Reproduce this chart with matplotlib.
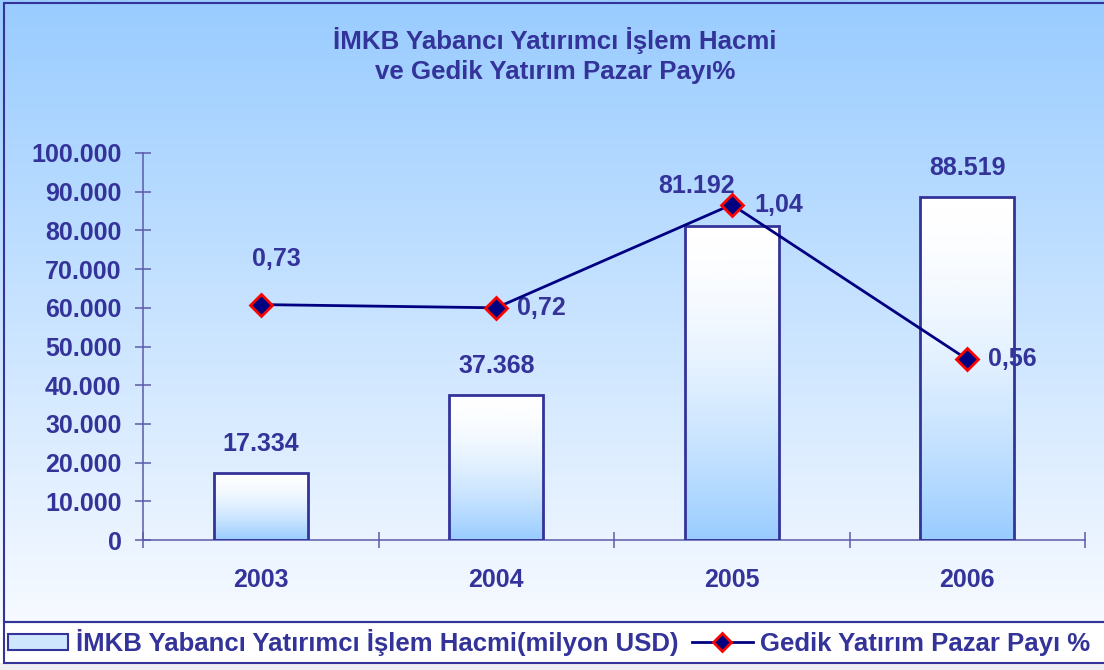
import numpy as np
import matplotlib
matplotlib.use("Agg")
import matplotlib.pyplot as plt
from matplotlib.colors import LinearSegmentedColormap
from matplotlib.patches import Rectangle, Patch
from matplotlib.lines import Line2D
from matplotlib.ticker import FuncFormatter, FixedLocator

plt.rcParams['font.family'] = ['Liberation Sans', 'DejaVu Sans']
plt.rcParams['font.weight'] = 'bold'

# ---- data ----
years = ['2003', '2004', '2005', '2006']
volume = [17334, 37368, 81192, 88519]          # milyon USD
share = [0.73, 0.72, 1.04, 0.56]               # %
volume_labels = ['17.334', '37.368', '81.192', '88.519']
share_labels = ['0,73', '0,72', '1,04', '0,56']
yticks = [0, 10000, 20000, 30000, 40000, 50000, 60000, 70000, 80000, 90000, 100000]
title_lines = ['İMKB Yabancı Yatırımcı İşlem Hacmi', 've Gedik Yatırım Pazar Payı%']
legend_labels = ['İMKB Yabancı Yatırımcı İşlem Hacmi(milyon USD)', 'Gedik Yatırım Pazar Payı %']

TXT = '#333399'
AXC = '#5B5BAA'
LINE = '#000080'

W, H = 1104, 670
fig = plt.figure(figsize=(W / 100, H / 100), dpi=100)

# ---- background ----
bg = fig.add_axes([0, 0, 1, 1], zorder=-10)
bg.set_axis_off()
leg_bottom = (H - 663) / H
leg_top = (H - 622) / H
grad = np.linspace(0, 1, 256).reshape(-1, 1)
cmap_bg = LinearSegmentedColormap.from_list('bg', ['#99CCFF', '#F7FAFF'])
bg.imshow(grad, aspect='auto', cmap=cmap_bg, extent=[0, 1, leg_top, 1], origin='upper')
bg.add_patch(Rectangle((0, 0), 1, leg_bottom, facecolor='#EEEEF2', edgecolor='none'))
bg.add_patch(Rectangle((4 / W, leg_bottom), 1.0, leg_top - leg_bottom,
                       facecolor='white', edgecolor=TXT, lw=1.5))
bg.add_patch(Rectangle((4 / W, leg_top), 1.0, (1 - 3 / H) - leg_top,
                       facecolor='none', edgecolor=TXT, lw=1.5))
bg.set_xlim(0, 1)
bg.set_ylim(0, 1)

# ---- main axes ----
ax = fig.add_axes([143 / W, 130 / H, 942 / W, 387 / H])
ax.set_facecolor('none')
x = np.arange(len(years))
bars = ax.bar(x, volume, width=0.4, facecolor='none', edgecolor=TXT, linewidth=2, zorder=3)

bar_cmap = LinearSegmentedColormap.from_list('bar', ['#FFFFFF', '#99CCFF'])
g = (np.linspace(0, 1, 256) ** 1.7).reshape(-1, 1)
for b in bars:
    x0, w, h = b.get_x(), b.get_width(), b.get_height()
    ax.imshow(g, aspect='auto', cmap=bar_cmap, extent=[x0, x0 + w, 0, h],
              origin='upper', zorder=2, vmin=0, vmax=1)

ax.set_xlim(-0.5, len(years) - 0.5)
ax.set_ylim(0, 100000)

ax.set_yticks(yticks)
ax.yaxis.set_major_formatter(FuncFormatter(lambda v, p: f"{int(v):,}".replace(',', '.')))
ax.tick_params(axis='y', direction='inout', length=12, width=1.1, color=AXC,
               labelcolor=TXT, labelsize=18, pad=9.5)
ax.set_xticks(x)
ax.set_xticklabels(years)
ax.tick_params(axis='x', which='major', length=0, labelcolor=TXT, labelsize=18, pad=20)
ax.xaxis.set_minor_locator(FixedLocator(np.arange(-0.5, len(years), 1.0)))
ax.tick_params(axis='x', which='minor', direction='inout', length=12, width=1.1, color=AXC)
for lbl in ax.get_xticklabels() + ax.get_yticklabels():
    lbl.set_fontweight('bold')
for s in ['top', 'right']:
    ax.spines[s].set_visible(False)
for s in ['left', 'bottom']:
    ax.spines[s].set_color(AXC)
    ax.spines[s].set_linewidth(1.1)

vol_offsets = [(0, 21), (0, 21), (-25, 29), (0, 21)]
for i, b in enumerate(bars):
    ax.annotate(volume_labels[i], (b.get_x() + b.get_width() / 2, b.get_height()),
                xytext=vol_offsets[i], textcoords='offset points',
                ha='center', va='center', fontsize=18, color=TXT, fontweight='bold',
                zorder=5)

# ---- secondary (hidden) axis for market share ----
ax2 = ax.twinx()
ax2.set_ylim(0, 1.2)
ax2.set_axis_off()
ax2.plot(x, share, color=LINE, lw=2, marker='D', ms=11, mfc=LINE, mec='red', mew=2,
         zorder=4)
share_pos = [((11, 33), 'center'), ((15, 0), 'left'), ((16, 0), 'left'), ((15, 0), 'left')]
for i in range(len(share)):
    off, ha = share_pos[i]
    ax2.annotate(share_labels[i], (x[i], share[i]), xytext=off, textcoords='offset points',
                 ha=ha, va='center', fontsize=18, color=TXT, fontweight='bold')

# ---- title ----
fig.text(555 / W, 1 - 40 / H, title_lines[0], ha='center', va='center', fontsize=18.6,
         color=TXT, fontweight='bold')
fig.text(555 / W, 1 - 72 / H, title_lines[1], ha='center', va='center', fontsize=18.6,
         color=TXT, fontweight='bold')

# ---- legend ----
handles = [Patch(facecolor='#CFE6FF', edgecolor=TXT, lw=1.5),
           Line2D([], [], color=LINE, lw=2, marker='D', ms=9, mfc=LINE, mec='red', mew=2)]
leg = fig.legend(handles, legend_labels, loc='center',
                 bbox_to_anchor=(549 / W, (leg_top + leg_bottom) / 2),
                 ncol=2, frameon=False, fontsize=18.5, handlelength=2.35, handletextpad=0.28,
                 columnspacing=0.55, borderpad=0, borderaxespad=0, handleheight=0.6)
for t in leg.get_texts():
    t.set_color(TXT)
    t.set_fontweight('bold')

fig.savefig('out.png', dpi=100)
